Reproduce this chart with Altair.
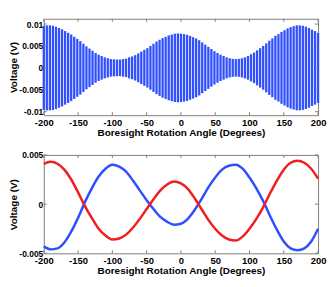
import altair as alt
import pandas as pd

# ---------------- data ----------------
bar_angles = [round(-200 + i * 400 / 90, 2) for i in range(91)]
envelope = [0.0096, 0.0097, 0.0097, 0.0096, 0.0094, 0.0091, 0.0088, 0.0084, 0.0080, 0.0076,
            0.0071, 0.0066, 0.0061, 0.0055, 0.0049, 0.0044, 0.0039, 0.0034, 0.0030, 0.0027,
            0.0024, 0.0022, 0.0020, 0.00195, 0.0019, 0.0019, 0.0020, 0.0021, 0.0024, 0.0026,
            0.0029, 0.0033, 0.0037, 0.0041, 0.0045, 0.0050, 0.0055, 0.0060, 0.0064, 0.0068,
            0.0071, 0.0074, 0.0076, 0.0078, 0.00785, 0.0078, 0.0077, 0.00755, 0.0073, 0.0070,
            0.0067, 0.0063, 0.0058, 0.0053, 0.0048, 0.0043, 0.0038, 0.0034, 0.0030, 0.0027,
            0.0024, 0.0022, 0.00205, 0.0020, 0.00205, 0.0022, 0.0024, 0.0027, 0.0031, 0.0035,
            0.0040, 0.0045, 0.0050, 0.0056, 0.0062, 0.0067, 0.0073, 0.0077, 0.0082, 0.0086,
            0.0090, 0.0093, 0.0095, 0.0097, 0.0097, 0.0096, 0.0094, 0.0091, 0.0087, 0.0084,
            0.0080]

curve_angles = list(range(-200, 201, 10))
red_values = [0.0041, 0.0043, 0.0041, 0.0035, 0.0025, 0.0012, -0.0002, -0.0014, -0.0025, -0.0032,
              -0.0036, -0.0035, -0.0031, -0.0024, -0.0015, -0.0005, 0.0005, 0.0014, 0.0020, 0.0023,
              0.0021, 0.00155, 0.0006, -0.0005, -0.0016, -0.0025, -0.0032, -0.0036, -0.0037, -0.0033,
              -0.0025, -0.0015, -0.0003, 0.0011, 0.0024, 0.0035, 0.0042, 0.0044, 0.0042, 0.0036,
              0.0026]
blue_values = [-0.0043, -0.0046, -0.0045, -0.0039, -0.0028, -0.0014, 0.0002, 0.0016, 0.0028, 0.0036,
               0.0040, 0.0038, 0.0033, 0.0024, 0.0014, 0.0004, -0.0005, -0.0013, -0.0018, -0.0021,
               -0.0020, -0.0015, -0.0006, 0.0005, 0.0017, 0.0027, 0.0035, 0.0039, 0.0040, 0.0036,
               0.0027, 0.0016, 0.0003, -0.0012, -0.0026, -0.0038, -0.0045, -0.0047, -0.0045, -0.0038,
               -0.0025]

x_ticks = [-200, -150, -100, -50, 0, 50, 100, 150, 200]
top_y_ticks = [-0.01, -0.005, 0, 0.005, 0.01]
bot_y_ticks = [-0.005, 0, 0.005]

# ---------------- style ----------------
FONT = "Liberation Sans"
BLUE = "#3050ff"
RED = "#f01e1e"
TICK = "#7f7f7f"
W, H1, H2 = 276, 97, 99
LBL = "(datum.value < 0 ? '-' : '') + format(abs(datum.value), '~g')"

xscale = alt.Scale(domain=[-200, 200], nice=False, zero=False)
xaxis = alt.Axis(values=x_ticks, labelExpr=LBL, title="Boresight Rotation Angle (Degrees)",
                 labelFlush=False, labelOverlap=False)


def tick_layers(yfield, yscale, yaxis, yticks, H):
    xt = pd.DataFrame({"angle": x_ticks})
    yt = pd.DataFrame({yfield: yticks})
    base_x = alt.Chart(xt).mark_rule(color=TICK, strokeWidth=1)
    base_y = alt.Chart(yt).mark_rule(color=TICK, strokeWidth=1)
    xenc = alt.X("angle:Q", scale=xscale, axis=xaxis)
    yenc = alt.Y(f"{yfield}:Q", scale=yscale, axis=yaxis)
    return [
        base_x.encode(x=xenc, y=alt.value(0), y2=alt.value(3)),
        base_x.encode(x=xenc, y=alt.value(H), y2=alt.value(H - 3)),
        base_y.encode(y=yenc, x=alt.value(0), x2=alt.value(3)),
        base_y.encode(y=yenc, x=alt.value(W), x2=alt.value(W - 3)),
    ]


# ---------------- top panel ----------------
top_df = pd.DataFrame({"angle": bar_angles, "env": envelope})
top_yscale = alt.Scale(domain=[-0.0108, 0.0112], nice=False, zero=False)
top_yaxis = alt.Axis(values=top_y_ticks, labelExpr=LBL, title="Voltage (V)", labelOverlap=False)

bars = alt.Chart(top_df).transform_calculate(lo="-datum.env").mark_rule(
    color=BLUE, strokeWidth=2.3
).encode(
    x=alt.X("angle:Q", scale=xscale, axis=xaxis),
    y=alt.Y("env:Q", scale=top_yscale, axis=top_yaxis),
    y2="lo:Q",
)
top = alt.layer(bars, *tick_layers("env", top_yscale, top_yaxis, top_y_ticks, H1)).properties(
    width=W, height=H1
)

# ---------------- bottom panel ----------------
bot_df = pd.DataFrame({
    "angle": curve_angles * 2,
    "value": blue_values + red_values,
    "series": ["blue"] * len(curve_angles) + ["red"] * len(curve_angles),
})
bot_yscale = alt.Scale(domain=[-0.005, 0.005], nice=False, zero=False)
bot_yaxis = alt.Axis(values=bot_y_ticks, labelExpr=LBL, title="Voltage (V)", labelOverlap=False)

lines = alt.Chart(bot_df).mark_line(strokeWidth=2.5, interpolate="monotone").encode(
    x=alt.X("angle:Q", scale=xscale, axis=xaxis),
    y=alt.Y("value:Q", scale=bot_yscale, axis=bot_yaxis),
    color=alt.Color("series:N", scale=alt.Scale(domain=["blue", "red"], range=[BLUE, RED]), legend=None),
    detail="series:N",
)
bottom = alt.layer(lines, *tick_layers("value", bot_yscale, bot_yaxis, bot_y_ticks, H2)).properties(
    width=W, height=H2
)

chart = alt.vconcat(top, bottom, spacing=12).properties(
    padding={"left": 0, "top": 9, "right": 0, "bottom": 0}
).configure_view(
    stroke=TICK, strokeWidth=1
).configure_axis(
    domain=False, ticks=False, grid=False,
    labelFont=FONT, labelFontWeight="bold", labelColor="black",
    titleFont=FONT, titleFontSize=10, titleFontWeight="bold", titleColor="black",
).configure_axisX(
    labelFontSize=9.5, labelPadding=2, titlePadding=1,
).configure_axisY(
    labelFontSize=8.5, labelPadding=1, titlePadding=0,
)

chart.save("out.html", embed_options={"renderer": "svg", "actions": False})
